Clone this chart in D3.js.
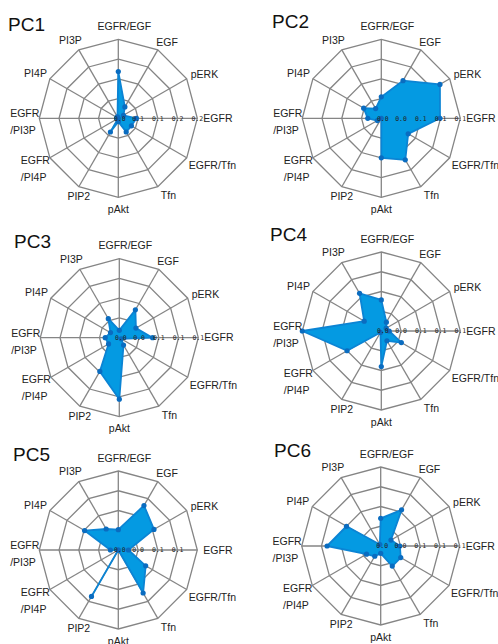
<!DOCTYPE html>
<html>
<head>
<meta charset="utf-8">
<script src="https://cdn.jsdelivr.net/npm/d3@7/dist/d3.min.js"></script>
<style>
  html, body { margin: 0; padding: 0; background: #fff; }
  svg { display: block; }
</style>
</head>
<body>
<svg id="chart" width="498" height="644"></svg>
<script>
// Axes of every radar, clockwise from the top
const axes = ["EGFR/EGF", "EGF", "pERK", "EGFR", "EGFR/Tfn", "Tfn", "pAkt", "PIP2", "EGFR/PI4P", "EGFR/PI3P", "PI4P", "PI3P"];
const axisLabelLines = [["EGFR/EGF"], ["EGF"], ["pERK"], ["EGFR"], ["EGFR/Tfn"], ["Tfn"], ["pAkt"], ["PIP2"], ["EGFR", "/PI4P"], ["EGFR", "/PI3P"], ["PI4P"], ["PI3P"]];

// Principal components
const components = ["PC1", "PC2", "PC3", "PC4", "PC5", "PC6"];
const componentMax = [0.24, 0.14, 0.14, 0.14, 0.14, 0.14];

// Radial tick labels (centre outwards)
const ticksPC1 = ["0.0", "0.1", "0.1", "0.2", "0.2"];
const ticksPC2 = ["0.0", "0.0", "0.1", "0.1", "0.1"];
const ticksPC3 = ["0.0", "0.0", "0.1", "0.1", "0.1"];
const ticksPC4 = ["0.0", "0.0", "0.1", "0.1", "0.1"];
const ticksPC5 = ["0.0", "0.0", "0.1", "0.1"];
const ticksPC6 = ["0.0", "0.0", "0.1", "0.1", "0.1"];

// Loadings per axis (same order as `axes`)
const loadPC1 = [0.142, 0.040, 0.018, 0.055, 0.046, 0.048, 0.010, 0.048, 0.000, 0.005, 0.005, 0.005];
const loadPC2 = [0.038, 0.077, 0.120, 0.104, 0.055, 0.085, 0.070, 0.000, 0.008, 0.024, 0.036, 0.020];
const loadPC3 = [0.013, 0.057, 0.034, 0.059, 0.004, 0.015, 0.109, 0.069, 0.022, 0.025, 0.018, 0.039];
const loadPC4 = [0.055, 0.018, 0.010, 0.014, 0.041, 0.020, 0.063, 0.003, 0.070, 0.140, 0.035, 0.077];
const loadPC5 = [0.036, 0.091, 0.073, 0.018, 0.056, 0.088, 0.000, 0.095, 0.000, 0.014, 0.069, 0.043];
const loadPC6 = [0.049, 0.074, 0.021, 0.034, 0.041, 0.041, 0.013, 0.021, 0.029, 0.095, 0.070, 0.003];

const loadings = [loadPC1, loadPC2, loadPC3, loadPC4, loadPC5, loadPC6];
const tickSets = [ticksPC1, ticksPC2, ticksPC3, ticksPC4, ticksPC5, ticksPC6];

// Panel layout: radar centre and title anchor
const panels = [
  { cx: 118.3, cy: 118.3, tx: 8,   ty: 31 },
  { cx: 381.3, cy: 118.3, tx: 272, ty: 28 },
  { cx: 119.3, cy: 337.7, tx: 14,  ty: 248 },
  { cx: 381.3, cy: 331.0, tx: 270, ty: 241 },
  { cx: 118.3, cy: 550.0, tx: 13,  ty: 461 },
  { cx: 380.7, cy: 546.0, tx: 274, ty: 457 }
];

const R = 79;
const levels = 4;
const gridColor = "#858585";
const fillColor = "#049ae2";
const dotColor = "#0a6cc0";

// Label placement relative to the outer vertex of each axis
const labelPlace = [
  { anchor: "middle", dx: 6,   dy: -13 },
  { anchor: "start",  dx: -1.5, dy: -8 },
  { anchor: "start",  dx: 4,   dy: -4 },
  { anchor: "start",  dx: 6,   dy: 0 },
  { anchor: "start",  dx: 2,   dy: 8 },
  { anchor: "start",  dx: 3,   dy: 9 },
  { anchor: "middle", dx: 0,   dy: 12 },
  { anchor: "middle", dx: 0,   dy: 10 },
  { anchor: "end",    dx: 0,   dy: 2.5 },
  { anchor: "end",    dx: 0,   dy: -4.5 },
  { anchor: "end",    dx: -3,  dy: -5.5 },
  { anchor: "end",    dx: 3,   dy: -10 }
];

const svg = d3.select("#chart");
const angle = d3.scaleLinear().domain([0, axes.length]).range([0, 2 * Math.PI]);
const px = (a, r) => r * Math.sin(a);
const py = (a, r) => -r * Math.cos(a);

components.forEach((name, pi) => {
  const P = panels[pi];
  const rScale = d3.scaleLinear().domain([0, componentMax[pi]]).range([0, R]);
  const g = svg.append("g").attr("transform", `translate(${P.cx},${P.cy})`);

  // grid rings
  const ringLine = d3.lineRadial().angle((d, i) => angle(i)).radius(d => d).curve(d3.curveLinearClosed);
  for (let k = 1; k <= levels; k++) {
    g.append("path")
      .attr("d", ringLine(axes.map(() => R * k / levels)))
      .attr("fill", "none")
      .attr("stroke", gridColor)
      .attr("stroke-width", 1.3);
  }
  // spokes
  g.selectAll("line.spoke").data(axes).join("line")
    .attr("class", "spoke")
    .attr("x1", 0).attr("y1", 0)
    .attr("x2", (d, i) => px(angle(i), R))
    .attr("y2", (d, i) => py(angle(i), R))
    .attr("stroke", gridColor)
    .attr("stroke-width", 1.3);

  // data area
  const vals = loadings[pi];
  const area = d3.lineRadial()
    .angle((d, i) => angle(i))
    .radius(d => rScale(d))
    .curve(d3.curveLinearClosed);
  g.append("path")
    .attr("d", area(vals))
    .attr("fill", fillColor)
    .attr("stroke", "#0b84d4")
    .attr("stroke-width", 1.8)
    .attr("stroke-linejoin", "round");

  g.selectAll("circle.pt").data(vals).join("circle")
    .attr("class", "pt")
    .attr("cx", (d, i) => px(angle(i), rScale(d)))
    .attr("cy", (d, i) => py(angle(i), rScale(d)))
    .attr("r", 2.6)
    .attr("fill", dotColor);

  // radial tick labels along the EGFR axis
  const ticks = tickSets[pi];
  g.selectAll("text.tick").data(ticks).join("text")
    .attr("class", "tick")
    .attr("x", (d, k) => R * k / levels + (k === 0 ? 1.5 : 0))
    .attr("y", 0)
    .attr("dy", "0.35em")
    .attr("text-anchor", "middle")
    .attr("font-family", "DejaVu Sans Mono, monospace")
    .attr("font-size", 6.5)
    .attr("fill", "#222")
    .text(d => d);

  // axis labels
  axisLabelLines.forEach((lines, i) => {
    const a = angle(i);
    const L = labelPlace[i];
    const vx = px(a, R) + L.dx;
    const vy = py(a, R) + L.dy;
    const lg = g.append("g");
    const lineH = 17;
    const texts = lines.map((s, li) => lg.append("text")
      .attr("x", 0)
      .attr("y", li * lineH)
      .attr("dy", "0.35em")
      .attr("font-family", "Liberation Sans, Arial, sans-serif")
      .attr("font-size", 10.5)
      .attr("fill", "#222")
      .text(s));
    if (lines.length > 1) {
      // multi-line labels: lines share a left edge, block placed by anchor
      const w = d3.max(texts, t => t.node().getComputedTextLength());
      const shift = L.anchor === "end" ? -w : (L.anchor === "middle" ? -w / 2 : 0);
      lg.attr("transform", `translate(${vx + shift},${vy})`);
    } else {
      texts[0].attr("text-anchor", L.anchor);
      lg.attr("transform", `translate(${vx},${vy})`);
    }
  });

  // panel title
  svg.append("text")
    .attr("x", P.tx)
    .attr("y", P.ty)
    .attr("font-family", "Liberation Sans, Arial, sans-serif")
    .attr("font-size", 19)
    .attr("fill", "#111")
    .text(name);
});
</script>
</body>
</html>
